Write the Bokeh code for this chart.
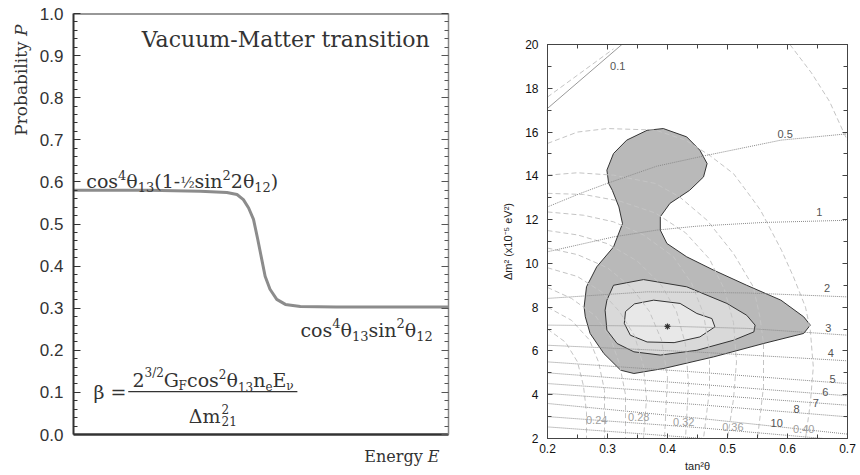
import math
from bokeh.plotting import figure
from bokeh.models import (Range1d, FixedTicker, LinearAxis, Label, ColumnDataSource,
                          NumeralTickFormatter, Title, Span)
from bokeh.layouts import row
from bokeh.core.properties import value
from bokeh.embed import file_html
from bokeh.resources import INLINE

# ---------------- left panel data ----------------
energy = [0.00, 0.20, 0.338, 0.409, 0.436, 0.453, 0.467, 0.480, 0.491, 0.502,
          0.511, 0.524, 0.542, 0.565, 0.605, 0.70, 1.00]
probability = [0.580, 0.580, 0.578, 0.575, 0.570, 0.558, 0.538, 0.511, 0.465, 0.416,
               0.376, 0.345, 0.321, 0.309, 0.304, 0.303, 0.303]
p_ticks = [0.0, 0.1, 0.2, 0.3, 0.4, 0.5, 0.6, 0.7, 0.8, 0.9, 1.0]
p_minor = [0.02, 0.04, 0.06, 0.08, 0.12, 0.14, 0.16, 0.18, 0.22, 0.24, 0.26, 0.28,
           0.32, 0.34, 0.36, 0.38, 0.42, 0.44, 0.46, 0.48, 0.52, 0.54, 0.56, 0.58,
           0.62, 0.64, 0.66, 0.68, 0.72, 0.74, 0.76, 0.78, 0.82, 0.84, 0.86, 0.88,
           0.92, 0.94, 0.96, 0.98]

# ---------------- right panel data ----------------
tan2_ticks = [0.2, 0.3, 0.4, 0.5, 0.6, 0.7]
tan2_minor = [0.25, 0.35, 0.45, 0.55, 0.65]
dm2_ticks = [2, 4, 6, 8, 10, 12, 14, 16, 18, 20]
dm2_minor = [3, 5, 7, 9, 11, 13, 15, 17, 19]

# allowed regions (outer, middle, inner)
outer_x = [0.393, 0.432, 0.454, 0.466, 0.460, 0.437, 0.404, 0.388, 0.388, 0.399, 0.432,
           0.477, 0.532, 0.589, 0.627, 0.638, 0.627, 0.560, 0.477, 0.394, 0.344, 0.322,
           0.294, 0.271, 0.263, 0.261, 0.265, 0.282, 0.310, 0.325, 0.319, 0.308, 0.302,
           0.299, 0.310, 0.332, 0.366]
outer_y = [16.16, 15.78, 15.17, 14.56, 13.95, 13.34, 12.74, 12.13, 11.52, 10.91, 10.30,
           9.69, 9.00, 8.32, 7.56, 7.18, 6.80, 6.34, 5.73, 5.20, 4.97, 5.12,
           5.88, 6.80, 7.56, 8.01, 8.93, 9.84, 10.75, 11.82, 12.58, 13.34, 13.65,
           14.26, 15.02, 15.63, 16.08]
middle_x = [0.360, 0.432, 0.499, 0.532, 0.546, 0.544, 0.510, 0.449, 0.388, 0.344, 0.316,
            0.299, 0.296, 0.299, 0.310]
middle_y = [9.26, 8.93, 8.17, 7.63, 7.18, 6.87, 6.49, 6.03, 5.81, 5.96, 6.34,
            6.95, 7.86, 8.32, 9.00]
inner_x = [0.377, 0.421, 0.449, 0.474, 0.479, 0.454, 0.411, 0.366, 0.338, 0.328, 0.330, 0.345]
inner_y = [8.32, 8.17, 7.71, 7.48, 7.10, 6.64, 6.38, 6.41, 6.72, 7.26, 7.80, 8.15]
best_x = [0.40]
best_y = [7.12]

# iso-lines of the first observable (dotted)
dm2_line_xs = [[0.2, 0.254, 0.299, 0.382, 0.466, 0.589, 0.7],
               [0.2, 0.31, 0.382, 0.449, 0.56, 0.7],
               [0.2, 0.366, 0.532, 0.7],
               [0.2, 0.4, 0.533, 0.7],
               [0.2, 0.45, 0.7],
               [0.2, 0.45, 0.7],
               [0.2, 0.45, 0.7],
               [0.2, 0.45, 0.7],
               [0.2, 0.45, 0.7],
               [0.2, 0.45, 0.7],
               [0.2, 0.45, 0.66],
               [0.2, 0.33, 0.46]]
dm2_line_ys = [[12.58, 13.19, 13.65, 14.44, 14.94, 15.63, 15.92],
               [10.53, 11.21, 11.52, 11.70, 11.87, 11.97],
               [8.40, 8.70, 8.65, 8.47],
               [7.18, 7.13, 7.03, 6.72],
               [6.26, 5.95, 5.55],
               [5.50, 5.03, 4.51],
               [5.00, 4.48, 3.95],
               [4.51, 4.03, 3.52],
               [4.06, 3.55, 2.99],
               [3.60, 2.93, 2.20],
               [3.00, 2.50, 2.00],
               [2.53, 2.27, 2.00]]
dm2_text = ["0.1", "0.5", "1", "2", "3", "4", "5", "6", "7", "8", "10"]
dm2_text_x = [0.317, 0.596, 0.653, 0.666, 0.668, 0.672, 0.675, 0.663, 0.647, 0.615, 0.582]
dm2_text_y = [19.02, 15.89, 12.35, 8.88, 7.07, 5.91, 4.71, 4.13, 3.64, 3.34, 2.71]
line01_x = [0.2, 0.324]
line01_y = [17.08, 20.0]
dash01_x = [0.2, 0.25, 0.31]
dash01_y = [17.6, 18.6, 19.8]

# iso-lines of the second observable (dashed arcs)
arc_xs = [[0.604, 0.64, 0.67, 0.70],
          [0.2, 0.25, 0.30, 0.38, 0.43, 0.47, 0.51, 0.54, 0.555, 0.59, 0.61, 0.63, 0.638, 0.643, 0.638, 0.63],
          [0.2, 0.25, 0.31, 0.38, 0.42, 0.466, 0.51, 0.543, 0.554, 0.56, 0.56, 0.55],
          [0.2, 0.26, 0.32, 0.38, 0.43, 0.47, 0.495, 0.51, 0.515, 0.51, 0.50],
          [0.2, 0.26, 0.31, 0.36, 0.41, 0.44, 0.46, 0.47, 0.47, 0.46],
          [0.2, 0.25, 0.30, 0.35, 0.39, 0.415, 0.43, 0.435, 0.43],
          [0.2, 0.25, 0.30, 0.34, 0.37, 0.39, 0.40, 0.395],
          [0.2, 0.25, 0.29, 0.32, 0.345, 0.36, 0.365, 0.36],
          [0.2, 0.24, 0.28, 0.305, 0.32, 0.33, 0.33],
          [0.2, 0.24, 0.27, 0.285, 0.295, 0.295],
          [0.2, 0.23, 0.25, 0.26, 0.265, 0.265]]
arc_ys = [[20.0, 18.7, 17.4, 15.6],
          [15.48, 16.0, 16.16, 16.09, 15.63, 14.94, 14.1, 13.0, 12.43, 10.6, 9.38, 8.0, 6.95, 5.27, 3.6, 2.0],
          [14.03, 14.14, 14.03, 13.65, 13.04, 11.97, 10.45, 8.93, 7.56, 6.34, 4.36, 2.0],
          [13.2, 13.15, 12.85, 12.3, 11.4, 10.2, 8.8, 7.3, 5.5, 3.8, 2.0],
          [12.35, 12.2, 11.9, 11.3, 10.3, 9.1, 7.7, 6.0, 4.2, 2.0],
          [11.5, 11.3, 10.9, 10.1, 9.0, 7.8, 6.3, 4.5, 2.0],
          [10.7, 10.4, 9.8, 8.9, 7.8, 6.5, 4.8, 2.0],
          [9.8, 9.4, 8.7, 7.8, 6.7, 5.3, 3.8, 2.0],
          [8.9, 8.4, 7.6, 6.6, 5.4, 4.0, 2.0],
          [8.0, 7.4, 6.5, 5.5, 4.2, 2.0],
          [7.0, 6.4, 5.5, 4.4, 3.2, 2.0]]
arc_text = ["0.24", "0.28", "0.32", "0.36", "0.40"]
arc_text_x = [0.282, 0.352, 0.427, 0.509, 0.627]
arc_text_y = [2.84, 2.96, 2.76, 2.53, 2.43]

SERIF = "DejaVu Serif"
SANS = "Liberation Sans"
H = 475
INK = "#333333"

# approximate DejaVu Serif advance widths (em) used to lay out formula pieces
WID = {'c': 0.56, 'o': 0.602, 's': 0.513, 'i': 0.32, 'n': 0.644, 'e': 0.592, 'E': 0.73,
       'G': 0.775, 'F': 0.70, '(': 0.39, ')': 0.39, '-': 0.338, 'm': 0.948, 'Δ': 0.77,
       'θ': 0.602, '/': 0.337, 'ν': 0.565, '½': 0.95, 'β': 0.6, '=': 0.838, ' ': 0.318}


def text_w(t, size):
    return sum(WID.get(ch, 0.636) for ch in t) * size


def lab(p, x, y, text, size, font=SERIF, style="normal", align="left",
        baseline="alphabetic", color=INK, angle=0.0, dx=0.0, dy=0.0):
    if baseline == "alphabetic":
        # place the alphabetic baseline at (x, y) via a centred box
        baseline = "middle"
        dy = dy + 0.345 * size
    p.add_layout(Label(x=x, y=y, text=text, text_font=font, text_font_size=f"{size}px",
                       text_font_style=style, text_align=align, text_baseline=baseline,
                       text_color=color, angle=angle, x_offset=dx, y_offset=dy))


def rich(p, x, y, segs, center=False):
    total = sum(text_w(t, s) for t, s, _ in segs)
    off = -total / 2 if center else 0.0
    for t, s, d in segs:
        lab(p, x, y, t, s, dx=off, dy=d)
        off += text_w(t, s)


# ================= left panel =================
p1 = figure(width=460, height=H, x_range=Range1d(0, 1), y_range=Range1d(0, 1),
            output_backend="svg", toolbar_location=None,
            min_border_left=73, min_border_right=12, min_border_top=13, min_border_bottom=39)
p1.frame_align = False
p1.outline_line_color = None
p1.grid.visible = False

xa = p1.xaxis[0]
xa.major_tick_in = 0
xa.major_tick_out = 0
xa.minor_tick_in = 0
xa.minor_tick_out = 0
xa.major_label_text_font_size = "0px"
xa.major_label_standoff = 0
xa.major_label_overrides = {t: "" for t in [0.0, 0.2, 0.4, 0.6, 0.8, 1.0]}
xa.axis_line_width = 2.5
xa.axis_line_color = INK

ya = p1.yaxis[0]
ya.ticker = FixedTicker(ticks=p_ticks, minor_ticks=p_minor)
ya.formatter = NumeralTickFormatter(format="0.0")
ya.axis_line_width = 2
ya.axis_line_color = INK
ya.major_tick_in = 7
ya.major_tick_out = 0
ya.minor_tick_in = 4
ya.minor_tick_out = 0
ya.major_tick_line_color = INK
ya.minor_tick_line_color = INK
ya.major_label_text_font = SANS
ya.major_label_text_font_size = "17px"
ya.major_label_text_color = INK
ya.major_label_standoff = 10

right1 = LinearAxis(ticker=FixedTicker(ticks=p_ticks, minor_ticks=p_minor),
                    major_tick_in=7, major_tick_out=0, minor_tick_in=4, minor_tick_out=0,
                    major_label_text_font_size="0px", major_label_standoff=0,
                    major_label_overrides={t: "" for t in p_ticks},
                    axis_line_width=1.5, axis_line_color="#888888",
                    major_tick_line_color="#555555", minor_tick_line_color="#555555")
p1.add_layout(right1, "right")
p1.add_layout(Span(location=1.0, dimension="width", line_color=INK, line_width=2))

p1.add_layout(Title(text="Probability 𝑃", align="right", text_font=SERIF,
                    text_font_size="17px", text_font_style="normal", text_color=INK,
                    standoff=12, offset=11), "left")
p1.add_layout(Title(text="Energy 𝐸", align="right", text_font=SERIF,
                    text_font_size="16px", text_font_style="normal", text_color=INK,
                    offset=9, standoff=20), "below")

p1.line(energy, probability, line_color="#8c8c8c", line_width=3)

lab(p1, 0.95, 0.939, "Vacuum-Matter transition", 22, align="right", baseline="middle")
rich(p1, 0.034, 0.5856, [("cos", 19, 0), ("4", 13, 8), ("θ", 19, 0), ("13", 13, -4),
                         ("(1-", 19, 0), ("½", 15, 0), ("sin", 19, 0), ("2", 13, 8),
                         ("2θ", 19, 0), ("12", 13, -4), (")", 19, 0)])
rich(p1, 0.605, 0.233, [("cos", 19, 0), ("4", 13, 9), ("θ", 19, 0), ("13", 13, -4),
                        ("sin", 19, 0), ("2", 13, 9), ("θ", 19, 0), ("12", 13, -4)])
# beta formula
lab(p1, 0.053, 0.1017, "β =", 19, baseline="middle")
rich(p1, 0.3715, 0.1128, [("2", 19, 0), ("3/2", 12, 10), ("G", 19, 0), ("F", 12, -3),
                          ("cos", 19, 0), ("2", 12, 9), ("θ", 19, 0), ("13", 12, -4),
                          ("n", 19, 0), ("e", 12, -3), ("E", 19, 0), ("ν", 12, -3)],
     center=True)
p1.segment(x0=[0.146], y0=[0.1017], x1=[0.597], y1=[0.1017], line_color=INK, line_width=1.3)
den_w = text_w("Δm", 19) + text_w("21", 12)
lab(p1, 0.3715, 0.029, "Δm", 19, dx=-den_w / 2)
lab(p1, 0.3715, 0.029, "2", 12, dx=-den_w / 2 + text_w("Δm", 19), dy=9)
lab(p1, 0.3715, 0.029, "21", 12, dx=-den_w / 2 + text_w("Δm", 19), dy=-3)

# ================= right panel =================
p2 = figure(width=400, height=H, x_range=Range1d(0.2, 0.7), y_range=Range1d(2, 20),
            output_backend="svg", toolbar_location=None,
            min_border_left=87, min_border_right=13, min_border_top=44, min_border_bottom=37)
p2.frame_align = False
p2.grid.visible = False
p2.outline_line_color = "#444444"
p2.outline_line_width = 1


def style_axis(ax, ticks, minor, labels=True):
    ax.ticker = FixedTicker(ticks=ticks, minor_ticks=minor)
    ax.major_tick_in = 5
    ax.major_tick_out = 0
    ax.minor_tick_in = 4
    ax.minor_tick_out = 0
    ax.major_tick_line_color = "#444444"
    ax.minor_tick_line_color = "#444444"
    ax.axis_line_color = "#444444"
    if labels:
        ax.major_label_text_font = SANS
        ax.major_label_text_font_size = "12px"
        ax.major_label_text_color = "#111111"
    else:
        ax.major_label_text_font_size = "0px"
        ax.major_label_standoff = 0
        ax.major_label_overrides = {t: "" for t in ticks}


style_axis(p2.xaxis[0], tan2_ticks, tan2_minor)
p2.xaxis[0].formatter = NumeralTickFormatter(format="0.0")
p2.xaxis[0].major_label_standoff = 5
p2.xaxis[0].axis_label = "tan²θ"
p2.xaxis[0].axis_label_text_font = SANS
p2.xaxis[0].axis_label_text_font_size = "11px"
p2.xaxis[0].axis_label_text_font_style = "normal"
p2.xaxis[0].axis_label_text_color = "#222222"
p2.xaxis[0].axis_label_standoff = 4
style_axis(p2.yaxis[0], dm2_ticks, dm2_minor)
p2.yaxis[0].major_label_standoff = 9
p2.yaxis[0].axis_label = "Δm² (x10⁻⁵ eV²)"
p2.yaxis[0].axis_label_text_font = SANS
p2.yaxis[0].axis_label_text_font_size = "11px"
p2.yaxis[0].axis_label_text_font_style = "normal"
p2.yaxis[0].axis_label_text_color = "#222222"
p2.yaxis[0].axis_label_standoff = 8
top2 = LinearAxis()
style_axis(top2, tan2_ticks, tan2_minor, labels=False)
p2.add_layout(top2, "above")
right2 = LinearAxis()
style_axis(right2, dm2_ticks, dm2_minor, labels=False)
p2.add_layout(right2, "right")

p2.patch(outer_x, outer_y, fill_color="#b9b9b9", line_color="#333333", line_width=1)
p2.patch(middle_x, middle_y, fill_color="#d9d9d9", line_color="#333333", line_width=1)
p2.patch(inner_x, inner_y, fill_color="#e8e8e8", line_color="#333333", line_width=1)

p2.multi_line(arc_xs, arc_ys, line_color="#c4c4c4", line_width=1, line_dash="5 3")
p2.line(dash01_x, dash01_y, line_color="#c4c4c4", line_width=1, line_dash="5 3")
p2.line(line01_x, line01_y, line_color="#999999", line_width=1)
p2.multi_line(dm2_line_xs, dm2_line_ys, line_color="#8a8a8a", line_width=1, line_dash="1 1")

p2.scatter(best_x, best_y, marker="asterisk", size=6, line_color="#333333", line_width=1.2)

src_dm2 = ColumnDataSource(dict(x=dm2_text_x, y=dm2_text_y, t=dm2_text))
p2.text(x="x", y="y", text="t", source=src_dm2, text_font=value(SANS), text_font_size="11px",
        text_color="#555555", text_align="center", text_baseline="middle")
src_arc = ColumnDataSource(dict(x=arc_text_x, y=arc_text_y, t=arc_text))
p2.text(x="x", y="y", text="t", source=src_arc, text_font=value(SANS), text_font_size="11px",
        text_color="#a0a0a0", text_align="center", text_baseline="middle")

layout = row(p1, p2)
open("out.html", "w").write(file_html(layout, INLINE))
